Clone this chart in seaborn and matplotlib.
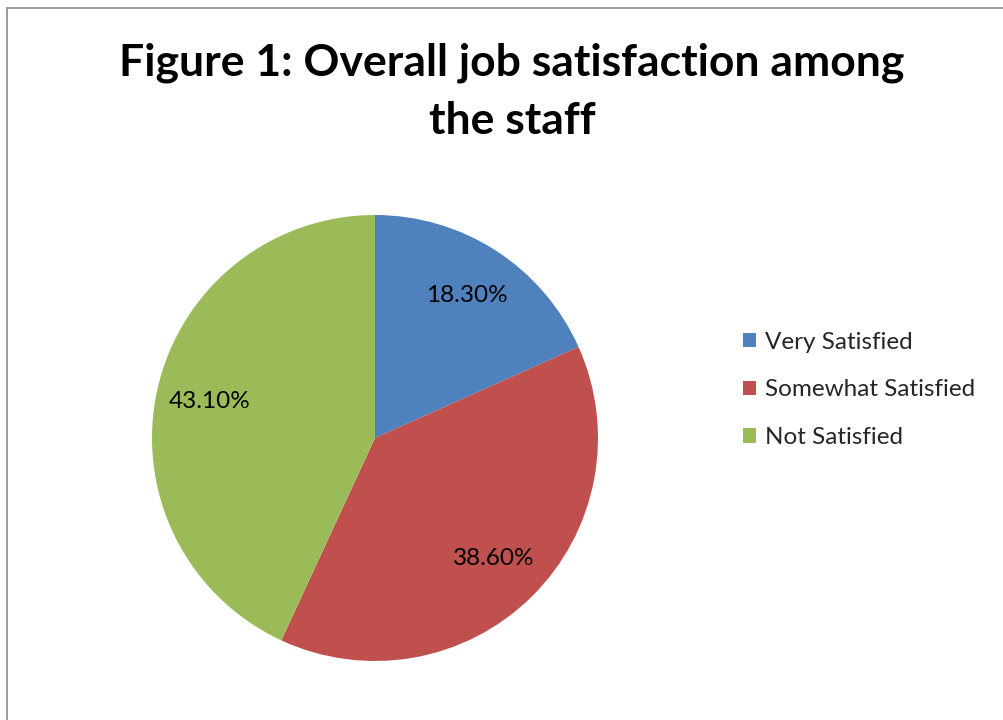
import matplotlib
matplotlib.use("Agg")
import matplotlib.pyplot as plt
import matplotlib.lines as mlines
import numpy as np
import seaborn as sns

categories = ["Very Satisfied", "Somewhat Satisfied", "Not Satisfied"]
values = [18.3, 38.6, 43.1]
labels = ["18.30%", "38.60%", "43.10%"]
colors = ["#4F81BD", "#C0504D", "#9BBB59"]

sns.set_theme(style="white")
plt.rcParams['font.family'] = ['Lato', 'DejaVu Sans']

W, H = 1004, 720
fig = plt.figure(figsize=(W / 100, H / 100), dpi=100)
fig.patch.set_facecolor("white")

cx, cy, r = 375, 438, 223
ax = fig.add_axes([(cx - r) / W, (H - cy - r) / H, 2 * r / W, 2 * r / H])
wedges, _ = ax.pie(values, colors=colors, startangle=90, counterclock=False,
                   radius=1.0, wedgeprops=dict(linewidth=0))
ax.set_xlim(-1, 1)
ax.set_ylim(-1, 1)
ax.set_aspect("equal")
ax.axis("off")

start = 90.0
for v, lab in zip(values, labels):
    ang = start - v * 360 / 100 / 2
    start -= v * 360 / 100
    d = 0.76
    ax.text(d * np.cos(np.radians(ang)), d * np.sin(np.radians(ang)), lab,
            ha="center", va="center", fontsize=17.5, color="black")

fig.text(512 / W, 1 - 92 / H, "Figure 1: Overall job satisfaction among\nthe staff",
         ha="center", va="center", fontsize=32, fontweight="bold",
         linespacing=1.55, color="black")

leg = fig.legend(wedges, categories, loc="center left",
                 bbox_to_anchor=(721 / W, 1 - 390 / H), frameon=False,
                 fontsize=17.5, handlelength=0.55, handleheight=0.55,
                 handletextpad=0.35, labelspacing=1.1)

# outer border (left and top edges visible)
fig.add_artist(mlines.Line2D([7.5 / W, 7.5 / W], [0, 1 - 8 / H],
                             transform=fig.transFigure, color="#8c8c8c", lw=1.2))
fig.add_artist(mlines.Line2D([7.5 / W, 1], [1 - 8 / H, 1 - 8 / H],
                             transform=fig.transFigure, color="#8c8c8c", lw=1.2))

fig.savefig("out.png", dpi=100, facecolor="white")
